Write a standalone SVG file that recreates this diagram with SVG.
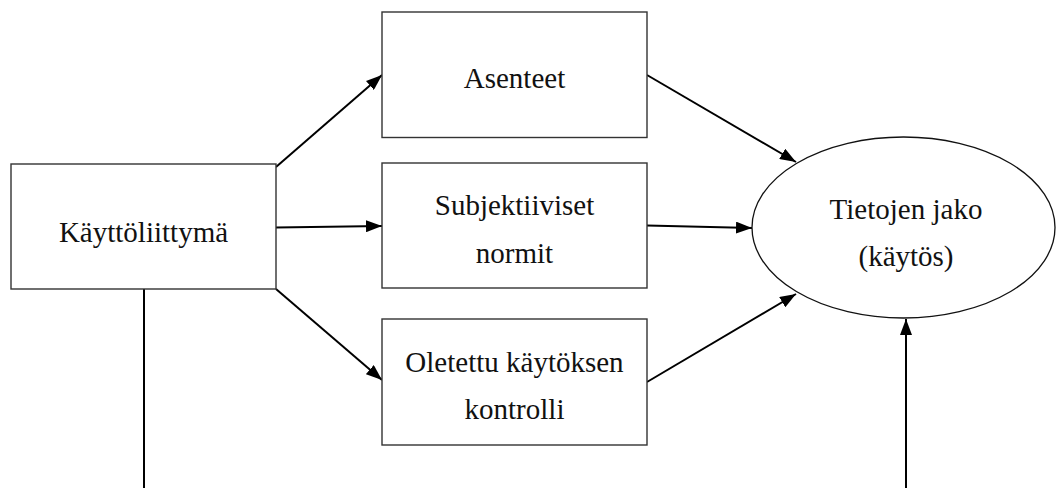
<svg xmlns="http://www.w3.org/2000/svg" width="1058" height="488" viewBox="0 0 1058 488">
  <style>
    .box { fill: #ffffff; stroke: #333333; stroke-width: 1.4; }
    .oval { fill: #ffffff; stroke: #111111; stroke-width: 1.3; }
    .lbl { font-family: "Liberation Serif", "Times New Roman", serif; font-size: 29px; fill: #111111; text-anchor: middle; }
    .edge { fill: none; stroke: #000000; stroke-width: 2; }
  </style>
  <defs>
    <marker id="arrow" viewBox="0 0 16 12" refX="16" refY="6" markerWidth="16" markerHeight="12" markerUnits="userSpaceOnUse" orient="auto">
      <path d="M0,0 L16,6 L0,12 Z" fill="#000000"/>
    </marker>
  </defs>

  <rect width="1058" height="488" fill="#ffffff"/>

  <g id="connectors">
    <line class="edge" x1="276" y1="167" x2="382" y2="75" marker-end="url(#arrow)"/>
    <line class="edge" x1="276" y1="227.5" x2="382" y2="226" marker-end="url(#arrow)"/>
    <line class="edge" x1="276" y1="289" x2="382" y2="380" marker-end="url(#arrow)"/>
    <line class="edge" x1="647" y1="75" x2="796" y2="162" marker-end="url(#arrow)"/>
    <line class="edge" x1="647" y1="225.5" x2="752" y2="228" marker-end="url(#arrow)"/>
    <line class="edge" x1="647" y1="382" x2="796" y2="294" marker-end="url(#arrow)"/>
    <line class="edge" x1="144" y1="289" x2="144" y2="488"/>
    <line class="edge" x1="906" y1="488" x2="906" y2="319" marker-end="url(#arrow)"/>
  </g>

  <g id="kayttoliittyma">
    <rect class="box" x="11" y="164" width="265" height="125"/>
    <text class="lbl" x="143.5" y="242">Käyttöliittymä</text>
  </g>

  <g id="asenteet">
    <rect class="box" x="382" y="12" width="265" height="125.5"/>
    <text class="lbl" x="514.5" y="88">Asenteet</text>
  </g>

  <g id="subjektiiviset-normit">
    <rect class="box" x="382" y="163" width="265" height="125"/>
    <text class="lbl" x="514.5" y="215">Subjektiiviset</text>
    <text class="lbl" x="514.5" y="263">normit</text>
  </g>

  <g id="oletettu-kontrolli">
    <rect class="box" x="382" y="319" width="265" height="126"/>
    <text class="lbl" x="514.5" y="372">Oletettu käytöksen</text>
    <text class="lbl" x="514.5" y="419">kontrolli</text>
  </g>

  <g id="tietojen-jako">
    <ellipse class="oval" cx="903.5" cy="227.5" rx="151.5" ry="90.5"/>
    <text class="lbl" x="906" y="219">Tietojen jako</text>
    <text class="lbl" x="906" y="266">(käytös)</text>
  </g>
</svg>
